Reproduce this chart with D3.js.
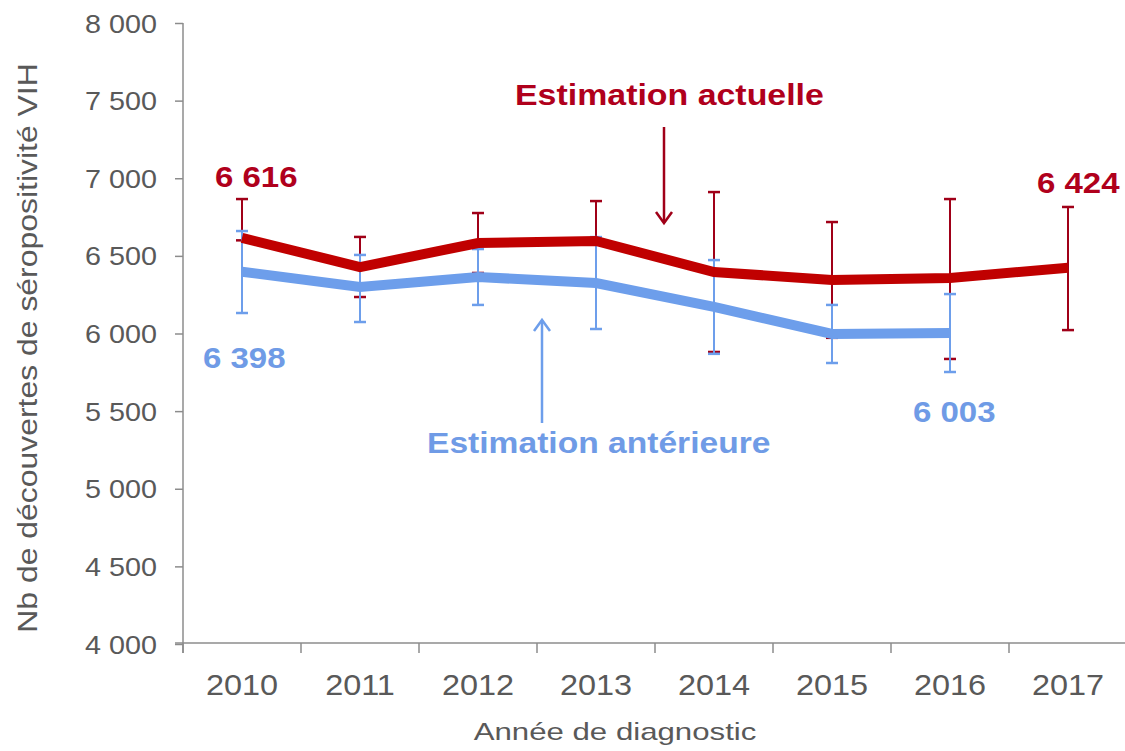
<!DOCTYPE html>
<html>
<head>
<meta charset="utf-8">
<script src="https://cdn.jsdelivr.net/npm/d3@7"></script>
<style>
  body { margin: 0; background: #fff; }
  svg { font-family: "Liberation Sans", Arial, sans-serif; }
</style>
</head>
<body>
<svg id="graphique"></svg>
<script>
// Données
var annees = [2010, 2011, 2012, 2013, 2014, 2015, 2016, 2017];
var actuelle      = [6616, 6428, 6583, 6596, 6396, 6345, 6357, 6424];
var actuelleBas   = [6600, 6235, 6390, 6339, 5881, 5972, 5836, 6022];
var actuelleHaut  = [6866, 6622, 6776, 6853, 6911, 6718, 6866, 6815];
var anterieure     = [6398, 6300, 6364, 6325, 6171, 5997, 6003];
var anterieureBas  = [6132, 6074, 6184, 6029, 5869, 5810, 5752];
var anterieureHaut = [6660, 6506, 6544, 6621, 6473, 6184, 6254];
var ticksY = [4000, 4500, 5000, 5500, 6000, 6500, 7000, 7500, 8000];

var largeur = 1125, hauteur = 751;
var rouge = '#c00000', rougeTexte = '#b0001c', rougeBarre = '#a00018';
var bleu = '#6d9eeb', bleuTexte = '#6f9be6';
var gris = '#8c8c8c', grisTexte = '#595959';

var svg = d3.select('#graphique')
            .attr('width', largeur)
            .attr('height', hauteur);

//Échelles
var x = d3.scaleBand()
          .domain(annees)
          .range([183, 1127])
          .padding(0);
var y = d3.scaleLinear()
          .domain([4000, 8000])
          .range([644, 23]);
var cx = d => x(d) + x.bandwidth() / 2;

var fr = d3.formatLocale({decimal: ',', thousands: ' ', grouping: [3], currency: ['', '']});
var format = fr.format(',');

//Texte étiré horizontalement
function texte(parent, px, py, chaine, taille, sx, couleur, gras, ancre) {
    parent.append('g')
          .attr('transform', 'translate(' + px + ',' + py + ') scale(' + sx + ',1)')
          .append('text')
          .attr('text-anchor', ancre || 'start')
          .style('font-size', taille + 'px')
          .style('font-weight', gras ? 'bold' : 'normal')
          .style('fill', couleur)
          .text(chaine);
}

//Axe Y
var eixoY = svg.append('g')
               .attr('transform', 'translate(183,0)')
               .call(d3.axisLeft(y).tickValues(ticksY).tickSize(8).tickFormat(format));
eixoY.select('.domain').attr('stroke', gris).attr('stroke-width', 1.5)
     .attr('d', 'M0,23V653');
eixoY.selectAll('line').attr('stroke', gris).attr('stroke-width', 1.5);
eixoY.selectAll('text')
     .attr('x', -26 / 1.15)
     .attr('dy', '0.36em')
     .attr('transform', 'scale(1.15,1)')
     .style('font-size', '25px')
     .style('fill', grisTexte);

//Axe X
var eixoX = svg.append('g')
               .attr('transform', 'translate(0,643)')
               .call(d3.axisBottom(x).tickSize(0));
eixoX.select('.domain').remove();
eixoX.selectAll('text')
     .attr('y', 52)
     .attr('dy', 0)
     .attr('transform', 'scale(1.08,1)')
     .style('font-size', '30px')
     .style('fill', grisTexte);
eixoX.append('line')
     .attr('x1', 175).attr('x2', largeur)
     .attr('stroke', gris).attr('stroke-width', 1.5);
eixoX.selectAll('.limite')
     .data(annees)
     .enter()
     .append('line')
     .classed('limite', true)
     .attr('x1', d => x(d)).attr('x2', d => x(d))
     .attr('y1', 0).attr('y2', 10)
     .attr('stroke', gris).attr('stroke-width', 1.5);

//Titres des axes
texte(svg, 615, 740, 'Année de diagnostic', 24, 1.3, grisTexte, false, 'middle');
svg.append('g')
   .attr('transform', 'translate(37,348) rotate(-90) scale(1.14,1)')
   .append('text')
   .attr('text-anchor', 'middle')
   .style('font-size', '28px')
   .style('fill', grisTexte)
   .text('Nb de découvertes de séropositivité VIH');

//Barres d'erreur
function barres(classe, valeursBas, valeursHaut, couleur) {
    var donnees = valeursBas.map((b, i) => ({annee: annees[i], bas: b, haut: valeursHaut[i]}));
    var g = svg.append('g').classed(classe, true);
    g.selectAll('.vert').data(donnees).enter().append('line')
     .attr('x1', d => cx(d.annee)).attr('x2', d => cx(d.annee))
     .attr('y1', d => y(d.bas)).attr('y2', d => y(d.haut))
     .attr('stroke', couleur).attr('stroke-width', 2);
    ['bas', 'haut'].forEach(function(cle) {
        g.selectAll('.cap' + cle).data(donnees).enter().append('line')
         .attr('x1', d => cx(d.annee) - 6).attr('x2', d => cx(d.annee) + 6)
         .attr('y1', d => y(d[cle])).attr('y2', d => y(d[cle]))
         .attr('stroke', couleur).attr('stroke-width', 2.5);
    });
}
barres('barresRouges', actuelleBas, actuelleHaut, rougeBarre);
barres('barresBleues', anterieureBas, anterieureHaut, bleu);

//Courbes
var ligne = d3.line()
              .x((d, i) => cx(annees[i]))
              .y(d => y(d));
svg.append('path')
   .datum(actuelle)
   .attr('d', ligne)
   .attr('fill', 'none')
   .attr('stroke', rouge)
   .attr('stroke-width', 10);
svg.append('path')
   .datum(anterieure)
   .attr('d', ligne)
   .attr('fill', 'none')
   .attr('stroke', bleu)
   .attr('stroke-width', 10);

//Étiquettes des valeurs
texte(svg, 215, 187, format(actuelle[0]), 30, 1.1, rougeTexte, true);
texte(svg, 1037, 193, format(actuelle[7]), 30, 1.1, rougeTexte, true);
texte(svg, 203, 368, format(anterieure[0]), 30, 1.1, bleuTexte, true);
texte(svg, 913, 422, format(anterieure[6]), 30, 1.1, bleuTexte, true);

//Annotations et flèches
texte(svg, 515, 105, 'Estimation actuelle', 30, 1.13, rougeTexte, true);
texte(svg, 427, 453, 'Estimation antérieure', 30, 1.12, bleuTexte, true);

function fleche(px, yDepart, yPointe, couleur) {
    var sens = yPointe > yDepart ? -1 : 1;
    svg.append('line')
       .attr('x1', px).attr('x2', px)
       .attr('y1', yDepart).attr('y2', yPointe)
       .attr('stroke', couleur).attr('stroke-width', 2.5);
    svg.append('path')
       .attr('d', 'M' + (px - 8) + ',' + (yPointe + sens * 11) + 'L' + px + ',' + yPointe + 'L' + (px + 8) + ',' + (yPointe + sens * 11))
       .attr('fill', 'none')
       .attr('stroke', couleur).attr('stroke-width', 2.5);
}
fleche(664, 127, 223, rougeBarre);
fleche(542, 423, 320, bleu);
</script>
</body>
</html>
